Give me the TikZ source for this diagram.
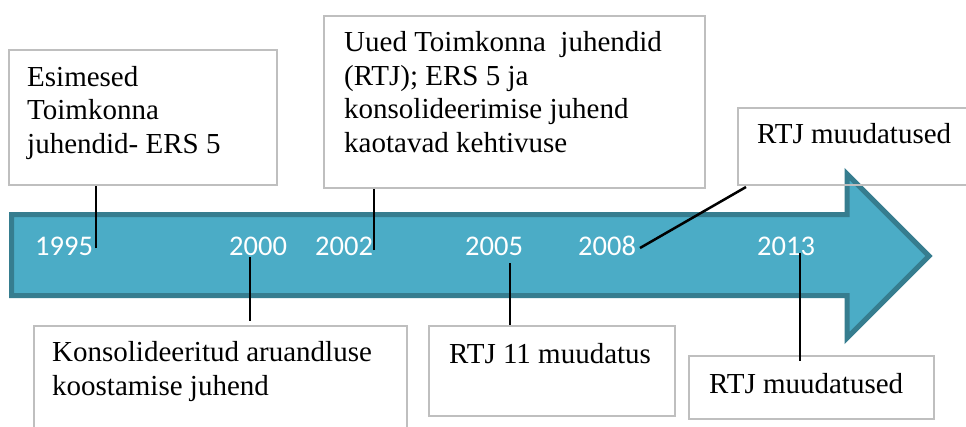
\documentclass[tikz,border=0pt]{standalone}
\usepackage{fontspec}
\setmainfont{Liberation Serif}
\newfontfamily\aastafont{Carlito}
\definecolor{colorNool}{RGB}{75,172,198}
\definecolor{colorNooleServ}{RGB}{54,125,143}
\definecolor{colorKast}{RGB}{191,191,191}
\usetikzlibrary{positioning}
\tikzset{
  kast/.style={draw=colorKast, line width=1.5pt, rectangle, inner sep=0pt, anchor=north west},
  tekst/.style={anchor=base west, inner sep=0pt, align=left, font=\fontsize{29}{33.5}\selectfont},
  aasta/.style={anchor=base west, inner sep=0pt, text=white, font=\aastafont\fontsize{28.5}{30}\selectfont},
  viide/.style={black, line width=2.5pt}
}

\begin{document}
\begin{tikzpicture}[x=1pt, y=-1pt]
\useasboundingbox[fill=white] (0,0) rectangle (966,426);
% ajatelje nool
\draw[fill=colorNool, draw=colorNooleServ, line width=5pt, line join=miter]
  (11.5,214.5) -- (847,214.5) -- (847,174) -- (929,256) -- (847,338) -- (847,295.5) -- (11.5,295.5) -- cycle;
% aastad
\node[aasta] (a1995) at (35,255) {1995};
\node[aasta] (a2000) at (229,255) {2000};
\node[aasta] (a2002) at (315,255) {2002};
\node[aasta] (a2005) at (465,255) {2005};
\node[aasta] (a2008) at (578,255) {2008};
\node[aasta] (a2013) at (757,255) {2013};
% kastid ules (tekst: viimase rea alusjoon)
\node[kast, minimum width=268pt, minimum height=135pt] (k1) at (8,49) {};
\node[tekst] (t1) at (27,153) {Esimesed\\Toimkonna\\juhendid- ERS 5};
\node[kast, minimum width=381pt, minimum height=172pt] (k2) at (323,15) {};
\node[tekst] (t2) at (344,152) {Uued Toimkonna\ \ juhendid\\(RTJ); ERS 5 ja\\konsolideerimise juhend\\kaotavad kehtivuse};
\node[kast, minimum width=240pt, minimum height=77pt] (k3) at (737,107) {};
\node[tekst] (t3) at (757,143) {RTJ muudatused};
% kastid alla
\node[kast, minimum width=373pt, minimum height=120pt] (k4) at (33,325) {};
\node[tekst] (t4) at (52,395) {Konsolideeritud aruandluse\\koostamise juhend};
\node[kast, minimum width=246pt, minimum height=90pt] (k5) at (428,325) {};
\node[tekst] (t5) at (449,363) {RTJ 11 muudatus};
\node[kast, minimum width=245pt, minimum height=63pt] (k6) at (688,355) {};
\node[tekst] (t6) at (709,393) {RTJ muudatused};
% viitejooned
\coordinate (p1995) at (96,248);
\coordinate (p2002) at (374,250);
\coordinate (p2008) at (640,248);
\coordinate (q2008) at (746,187);
\coordinate (p2000) at (250,257);
\coordinate (p2005) at (510,263);
\coordinate (p2013) at (800,253);
\draw[viide] (p1995) -- (p1995 |- k1.south);
\draw[viide] (p2002) -- (p2002 |- k2.south);
\draw[viide] (p2008) -- (q2008);
\draw[viide] (p2000) -- ([yshift=4pt]p2000 |- k4.north);
\draw[viide] (p2005) -- (p2005 |- k5.north);
\draw[viide] (p2013) -- ([yshift=-6pt]p2013 |- k6.north);
\end{tikzpicture}
\end{document}
